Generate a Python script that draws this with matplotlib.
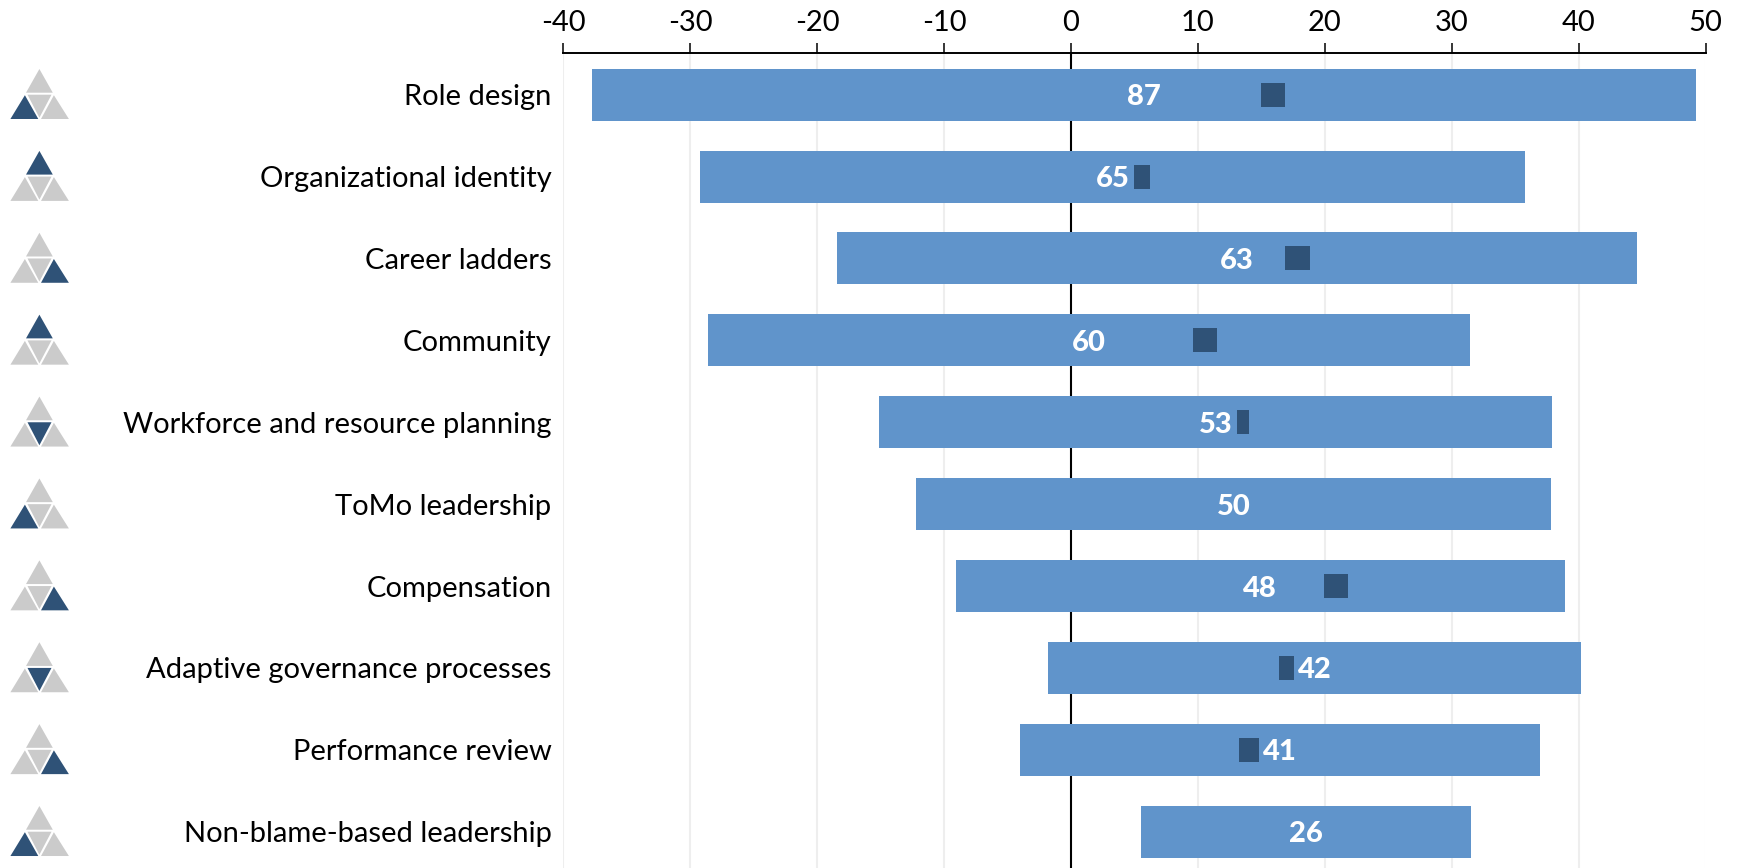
import matplotlib
matplotlib.use("Agg")
import matplotlib.pyplot as plt
from matplotlib.patches import Polygon

plt.rcParams['font.family'] = ['Lato', 'DejaVu Sans']

categories = ["Role design", "Organizational identity", "Career ladders", "Community",
              "Workforce and resource planning", "ToMo leadership", "Compensation",
              "Adaptive governance processes", "Performance review", "Non-blame-based leadership"]
values = [87, 65, 63, 60, 53, 50, 48, 42, 41, 26]
bar_starts = [-37.78, -29.22, -18.42, -28.58, -15.13, -12.21, -9.08, -1.79, -4.03, 5.55]
marker_starts = [15.0, 5.0, 16.9, 9.6, 13.1, None, 19.9, 16.4, 13.2, None]
marker_ends = [16.9, 6.2, 18.8, 11.5, 14.0, None, 21.8, 17.6, 14.8, None]
icon_segments = ["left", "top", "right", "top", "center", "left", "right", "center", "right", "left"]
x_ticks = [-40, -30, -20, -10, 0, 10, 20, 30, 40, 50]

BLUE = "#6094CB"
DARK = "#2F5277"
GREY = "#CBCBCB"
W, H = 1740, 868
ROW = 81.89
FIRST_ROW = 94.7
AX_LEFT, AX_RIGHT, AX_TOP, AX_BOTTOM = 563.4, 1705.5, 52.5, 868.0

fig = plt.figure(figsize=(W / 100, H / 100), dpi=100, facecolor="white")
ax = fig.add_axes([AX_LEFT / W, 1 - AX_BOTTOM / H, (AX_RIGHT - AX_LEFT) / W, (AX_BOTTOM - AX_TOP) / H])
ax.set_xlim(x_ticks[0], x_ticks[-1])
ax.set_ylim((AX_BOTTOM - FIRST_ROW) / ROW, (AX_TOP - FIRST_ROW) / ROW)

rows = list(range(len(categories)))

# Light vertical grid with a black zero line, both behind the bars
for t in x_ticks:
    ax.axvline(t, color="#000000" if t == 0 else "#EEEEEE", lw=1.5, zorder=1)

ax.barh(rows, values, left=bar_starts, height=52 / ROW, color=BLUE, zorder=2)

for r, a, b in zip(rows, marker_starts, marker_ends):
    if a is not None:
        ax.barh(r, b - a, left=a, height=24 / ROW, color=DARK, zorder=3)

for r, s, v in zip(rows, bar_starts, values):
    ax.text(s + v / 2, r, str(v), color="white", fontsize=21, fontweight=900,
            ha="center", va="center_baseline", zorder=4)

ax.xaxis.tick_top()
ax.set_xticks(x_ticks)
ax.set_xticklabels([str(t) for t in x_ticks], fontsize=21, color="black")
ax.tick_params(axis="x", length=7.2, width=1.1, pad=5, color="black")
ax.set_yticks(rows)
ax.set_yticklabels(categories, fontsize=21, color="black")
ax.tick_params(axis="y", length=0, pad=8.6)
for name in ("left", "right", "bottom"):
    ax.spines[name].set_visible(False)
ax.spines["top"].set_linewidth(1.4)

# Triangle glyph beside each row, laid out in figure pixels around the row centre
overlay = fig.add_axes([0, 0, 1, 1], facecolor="none")
overlay.set_xlim(0, W)
overlay.set_ylim(H, 0)
overlay.axis("off")
TRIANGLES = {
    "top": [(39.4, -25.7), (26.0, -2.0), (52.8, -2.0)],
    "left": [(24.9, 0.5), (10.4, 24.3), (38.3, 24.3)],
    "right": [(53.9, 0.5), (41.0, 24.3), (68.9, 24.3)],
    "center": [(27.5, 0.0), (51.5, 0.0), (39.4, 23.0)],
}
for r, seg in zip(rows, icon_segments):
    cy = FIRST_ROW + r * ROW
    for name, pts in TRIANGLES.items():
        overlay.add_patch(Polygon([(x, cy + y) for x, y in pts], closed=True, lw=0,
                                  facecolor=DARK if name == seg else GREY))

fig.savefig("out.png", dpi=100, facecolor="white")
